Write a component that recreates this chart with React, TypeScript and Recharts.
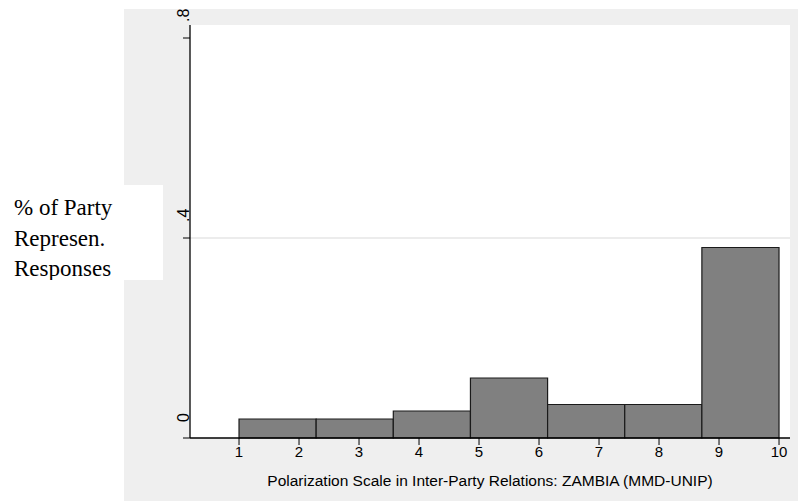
import React from 'react';
import { ComposedChart, XAxis, YAxis, Line, ReferenceArea, ReferenceLine, CartesianGrid, Label } from 'recharts';

const binEdges = [1, 2.2857, 3.5714, 4.8571, 6.1429, 7.4286, 8.7143, 10];
const binValues = [0.038, 0.038, 0.054, 0.12, 0.067, 0.067, 0.381];
const xTicks = [1, 2, 3, 4, 5, 6, 7, 8, 9, 10];
const yTicks = [0, 0.4, 0.8];
const yTickLabels = ['0', '.4', '.8'];
const xTitle = 'Polarization Scale in Inter-Party Relations: ZAMBIA (MMD-UNIP)';
const yTitleLines = ['% of Party', 'Represen.', 'Responses'];

const bins = binValues.map((v, i) => ({
  x0: binEdges[i],
  x1: binEdges[i + 1],
  mid: (binEdges[i] + binEdges[i + 1]) / 2,
  value: v,
}));

const SANS = '"Liberation Sans", Arial, sans-serif';
const SERIF = '"Liberation Serif", "Times New Roman", serif';

const YTick = (props: any) => {
  const { x, y, payload } = props;
  const idx = yTicks.indexOf(payload.value);
  const label = idx >= 0 ? yTickLabels[idx] : String(payload.value);
  const px = x + 6;
  const py = y - 16;
  return (
    <text
      x={px}
      y={py}
      transform={`rotate(-90, ${px}, ${py})`}
      textAnchor="start"
      fontFamily={SANS}
      fontSize={16}
      fill="#000"
    >
      {label}
    </text>
  );
};

export default function App() {
  return (
    <div style={{ position: 'absolute', left: 0, top: 0, width: 798, height: 501, background: '#fff' }}>
      <div style={{ position: 'absolute', left: 124, top: 9, width: 674, height: 492, background: '#efefef' }} />
      <div style={{ position: 'absolute', left: 0, top: 0 }}>
        <ComposedChart
          width={798}
          height={501}
          data={bins}
          margin={{ top: 25, right: 8, bottom: 0, left: 150 }}
        >
          <CartesianGrid horizontal={false} vertical={false} fill="#ffffff" />
          <ReferenceLine y={0.4} stroke="#e6e6e6" strokeWidth={1.5} />
          <XAxis
            dataKey="mid"
            type="number"
            domain={[0.183, 10.183]}
            ticks={xTicks}
            interval={0}
            allowDataOverflow
            axisLine={{ stroke: '#000', strokeWidth: 1.3 }}
            tickLine={{ stroke: '#000', strokeWidth: 1 }}
            tickSize={7}
            tickMargin={1}
            height={63}
            tick={{ fill: '#000', fontFamily: SANS, fontSize: 15 }}
          >
            <Label
              value={xTitle}
              position="insideBottom"
              offset={15}
              fill="#000"
              fontFamily={SANS}
              fontSize={15.5}
            />
          </XAxis>
          <YAxis
            type="number"
            domain={[0, 0.826]}
            ticks={yTicks}
            interval={0}
            allowDataOverflow
            width={40}
            axisLine={{ stroke: '#000', strokeWidth: 1.3 }}
            tickLine={{ stroke: '#000', strokeWidth: 1 }}
            tickSize={7}
            tickMargin={0}
            tick={<YTick />}
          />
          {bins.map((b, i) => (
            <ReferenceArea
              key={i}
              x1={b.x0}
              x2={b.x1}
              y1={0}
              y2={b.value}
              fill="#808080"
              fillOpacity={1}
              stroke="#1a1a1a"
              strokeWidth={1.2}
              ifOverflow="visible"
            />
          ))}
          <Line
            dataKey="value"
            stroke="none"
            dot={false}
            activeDot={false}
            legendType="none"
            isAnimationActive={false}
          />
        </ComposedChart>
      </div>
      <div
        style={{
          position: 'absolute',
          left: 0,
          top: 185,
          width: 163,
          height: 95,
          background: '#fff',
          overflow: 'hidden',
          fontFamily: SERIF,
          fontSize: 23,
          lineHeight: '30.5px',
          paddingLeft: 14,
          paddingTop: 8,
          boxSizing: 'border-box',
          color: '#000',
          whiteSpace: 'nowrap',
        }}
      >
        {yTitleLines.map((l, i) => (
          <div key={i}>{l}</div>
        ))}
      </div>
    </div>
  );
}
